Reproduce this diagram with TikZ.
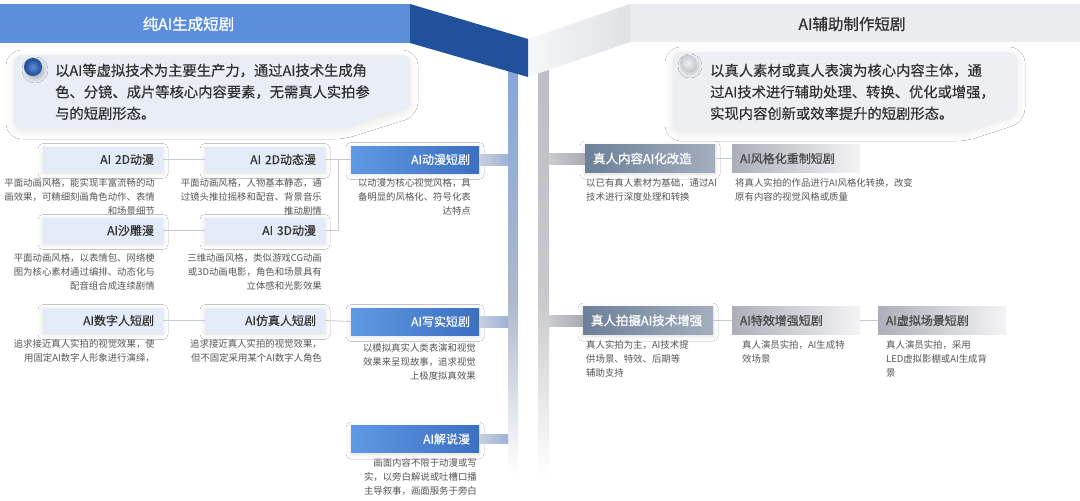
\documentclass[tikz,border=0pt]{standalone}
\usepackage{fontspec}
\setmainfont{Noto Sans CJK SC}
\newfontfamily\medfont[FakeBold=0.9]{Noto Sans CJK SC}
\newfontfamily\semifont[FakeBold=0.4]{Noto Sans CJK SC}
\usetikzlibrary{shadows.blur,calc}
\definecolor{bannerblue}{HTML}{5B8FDC}
\definecolor{folddark}{HTML}{22519C}
\definecolor{bannergray}{HTML}{EBECEF}
\definecolor{foldgL}{HTML}{F6F7F8}
\definecolor{foldgR}{HTML}{E0E1E5}
\definecolor{lightbox}{HTML}{E3EBF8}
\definecolor{txt}{HTML}{303030}
\definecolor{desc}{HTML}{555555}
\definecolor{conn}{HTML}{C5CAD2}
\definecolor{blueL}{HTML}{5F99E4}
\definecolor{blueR}{HTML}{3C6FC0}
\definecolor{darkL}{HTML}{6C8099}
\definecolor{darkR}{HTML}{A4AFBE}
\definecolor{fadeL}{HTML}{ABAFB9}
\definecolor{fadeR}{HTML}{F4F4F6}
\definecolor{ftxt}{HTML}{4A4A4A}
\definecolor{hcL}{HTML}{C9D0DC}
\definecolor{hcR}{HTML}{9DB2D8}
\definecolor{gcL}{HTML}{CACBCF}
\definecolor{gcR}{HTML}{A9ABB0}
\definecolor{introL}{HTML}{E8EDF6}
\definecolor{introR}{HTML}{EEEFF2}
\definecolor{barB1}{HTML}{86A7D8}
\definecolor{barB2}{HTML}{ADB8CC}
\definecolor{barG1}{HTML}{BEBFC4}
\definecolor{barG2}{HTML}{C8C9CD}
\definecolor{ballBi}{HTML}{5F8CD2}
\definecolor{ballBo}{HTML}{1D4A96}
\definecolor{ballGi}{HTML}{F0F1F3}
\definecolor{ballGo}{HTML}{C8CAD0}
\definecolor{ttlgray}{HTML}{333333}
\tikzset{
  shd/.style={blur shadow={shadow xshift=0pt, shadow yshift=-1.5pt, shadow blur radius=5pt, shadow opacity=13}},
  boxL/.style={shd, fill=lightbox, minimum height=25pt, text width=102pt, inner xsep=9pt, inner ysep=0pt, align=right, font=\semifont\fontsize{12}{14}\selectfont, text=txt},
  boxB/.style={shd, left color=blueL, right color=blueR, minimum height=27pt, text width=110pt, inner xsep=9pt, inner ysep=0pt, align=right, font=\semifont\fontsize{12}{14}\selectfont, text=white},
  boxD/.style={shd, left color=darkL, right color=darkR, minimum height=28pt, text width=114pt, inner xsep=8pt, inner ysep=0pt, align=left, font=\medfont\fontsize{12.5}{14}\selectfont, text=white},
  boxF/.style={left color=fadeL, right color=fadeR, minimum height=28pt, text width=112pt, inner xsep=8pt, inner ysep=0pt, align=left, font=\medfont\fontsize{12}{14}\selectfont, text=ftxt},
  dsc/.style={font=\fontsize{9.4}{14}\selectfont, text=desc, inner sep=0pt},
  dscR/.style={dsc, anchor=north east, align=right},
  dscL/.style={dsc, anchor=north west, align=left},
  intro/.style={font=\semifont\fontsize{14.3}{21.5}\selectfont, text=txt, inner sep=0pt, align=left, anchor=north west},
  cline/.style={draw=conn, line width=0.8pt},
  ttl/.style={font=\medfont\fontsize{15.5}{18}\selectfont, inner sep=0pt},
  ishd/.style={blur shadow={shadow xshift=0pt, shadow yshift=-3pt, shadow blur radius=8pt, shadow opacity=10}},
}
\begin{document}
\begin{tikzpicture}[x=1pt,y=-1pt]
\useasboundingbox (0,0) rectangle (1080,501);
\fill[white] (0,0) rectangle (1080,501);

% vertical bars
\shade[top color=barB1, bottom color=barB2] (508,70) rectangle (518,300);
\shade[top color=barB2, bottom color=white] (508,299.5) rectangle (518,475);
\shade[top color=barG1, bottom color=barG2] (538,70) rectangle (549,300);
\shade[top color=barG2, bottom color=white] (538,299.5) rectangle (549,475);
\coordinate (barB) at (508,0);
\coordinate (barG) at (549,0);

% top banner
\fill[bannerblue] (0,4) rectangle (410,43);
\fill[bannergray] (630,4) rectangle (1080,42);
\shade[left color=foldgL, right color=foldgR] (528,39) -- (630,4) -- (630,42) -- (528,77) -- cycle;
\fill[folddark] (410,4) -- (528,39) -- (528,77) -- (410,43) -- cycle;
\node[ttl, text=white] (t1) at (188.5,24) {纯AI生成短剧};
\node[ttl, text=ttlgray] (t2) at (852,24) {AI辅助制作短剧};

% intro boxes
\path[fill=introL, rounded corners=8pt, ishd]
  (14,55) -- (410,55) -- (410,107) -- (343,128) -- (14,128) -- cycle;
\path[fill=introR, rounded corners=8pt, ishd]
  (673,52) -- (1017,52) -- (1017,113) -- (965,130) -- (673,130) -- cycle;
\shade[inner color=ballBi, outer color=ballBo, blur shadow={shadow xshift=2pt, shadow yshift=-3pt, shadow blur radius=4pt, shadow opacity=25}] (33,67) circle (9);
\shade[inner color=ballGi, outer color=ballGo, blur shadow={shadow xshift=2pt, shadow yshift=-3pt, shadow blur radius=4pt, shadow opacity=20}] (688,63) circle (8);
\node[intro] (itl) at (55,63.5) {以AI等虚拟技术为主要生产力，通过AI技术生成角\\色、分镜、成片等核心内容要素，无需真人实拍参\\与的短剧形态。};
\node[intro] (itr) at (710,63.5) {以真人素材或真人表演为核心内容主体，通\\过AI技术进行辅助处理、转换、优化或增强，\\实现内容创新或效率提升的短剧形态。};

% left boxes
\node[boxL] (a2d) at (103,159.5) {AI 2D动漫};
\node[boxL] (a2dt) at (265,159.5) {AI 2D动态漫};
\node[boxL] (ash) at (103,230.5) {AI沙雕漫};
\node[boxL] (a3d) at (265,230.5) {AI 3D动漫};
\node[boxL] (adh) at (103,320.5) {AI数字人短剧};
\node[boxL] (afz) at (265,320.5) {AI仿真人短剧};
\node[boxB] (anime) at (415,159.5) {AI动漫短剧};
\node[boxB] (real) at (415,321.5) {AI写实短剧};
\node[boxB] (narr) at (415,439) {AI解说漫};

% left connectors
\coordinate (j1) at (338,159.5);
\draw[cline] (a2d.east) -- (a2dt.west);
\draw[cline] (ash.east) -- (a3d.west);
\draw[cline] (adh.east) -- (afz.west);
\draw[cline] (a2dt.east) -- (anime.west);
\draw[cline] (a3d.east) -| (j1);
\draw[cline] (afz.east) -- (real.west);
\shade[left color=hcL, right color=hcR] ($(anime.east)+(0,-5.5)$) rectangle ($(anime.east -| barB)+(0,5.5)$);
\shade[left color=hcL, right color=hcR] ($(real.east)+(0,-5.5)$) rectangle ($(real.east -| barB)+(0,5.5)$);
\shade[left color=hcL, right color=hcR] ($(narr.east)+(0,-4.5)$) rectangle ($(narr.east -| barB)+(0,4.5)$);

% left descriptions
\node[dscR] (d2d) at (155,178.5) {平面动画风格，能实现丰富流畅的动\\画效果，可精细刻画角色动作、表情\\和场景细节};
\node[dscR] (d2dt) at (322,178.5) {平面动画风格，人物基本静态，通\\过镜头推拉摇移和配音、背景音乐\\推动剧情};
\node[dscR] (dsh) at (155,253.5) {平面动画风格，以表情包、网络梗\\图为核心素材通过编排、动态化与\\配音组合成连续剧情};
\node[dscR] (d3d) at (322,253.5) {三维动画风格，类似游戏CG动画\\或3D动画电影，角色和场景具有\\立体感和光影效果};
\node[dscR] (ddh) at (155,339.5) {追求接近真人实拍的视觉效果，使\\用固定AI数字人形象进行演绎，};
\node[dscR] (dfz) at (322,339.5) {追求接近真人实拍的视觉效果，\\但不固定采用某个AI数字人角色};
\node[dscR] (danime) at (471,178.5) {以动漫为核心视觉风格，具\\备明显的风格化、符号化表\\达特点};
\node[dscR] (dreal) at (476,343.5) {以模拟真实人类表演和视觉\\效果来呈现故事，追求视觉\\上极度拟真效果};
\node[dscR] (dnarr) at (477,458.5) {画面内容不限于动漫或写\\实，以旁白解说或吐槽口播\\主导叙事，画面服务于旁白};

% right boxes
\node[boxD] (r1) at (650,158.5) {真人内容AI化改造};
\node[boxF] (r1b) at (796,158.5) {AI风格化重制短剧};
\node[boxD] (r2) at (648,320.5) {真人拍摄AI技术增强};
\node[boxF] (r2b) at (796,320.5) {AI特效增强短剧};
\node[boxF] (r2c) at (942,320.5) {AI虚拟场景短剧};
\draw[cline] (r1.east) -- (r1b.west);
\draw[cline] (r2.east) -- (r2b.west);
\draw[cline] (r2b.east) -- (r2c.west);
\shade[left color=gcL, right color=gcR] ($(r1.west -| barG)+(0,-5.5)$) rectangle ($(r1.west)+(0,5.5)$);
\shade[left color=gcL, right color=gcR] ($(r2.west -| barG)+(0,-5.5)$) rectangle ($(r2.west)+(0,5.5)$);

% right descriptions
\node[dscL] (dr1) at (586,178.5) {以已有真人素材为基础，通过AI\\技术进行深度处理和转换};
\node[dscL] (dr1b) at (735,178.5) {将真人实拍的作品进行AI风格化转换，改变\\原有内容的视觉风格或质量};
\node[dscL] (dr2) at (586,340.5) {真人实拍为主，AI技术提\\供场景、特效、后期等\\辅助支持};
\node[dscL] (dr2b) at (742,340.5) {真人演员实拍，AI生成特\\效场景};
\node[dscL] (dr2c) at (886,340.5) {真人演员实拍，采用\\LED虚拟影棚或AI生成背\\景};
\end{tikzpicture}
\end{document}
